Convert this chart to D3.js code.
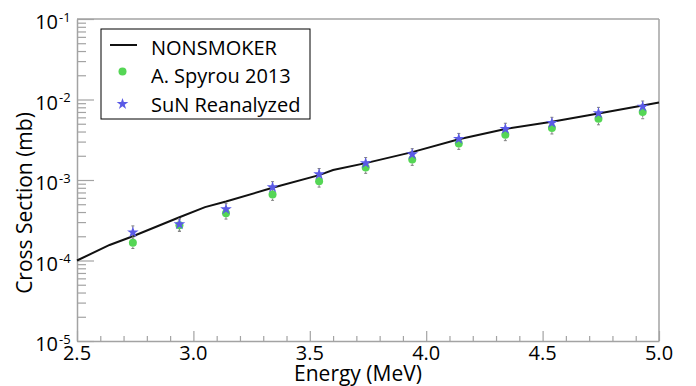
<!DOCTYPE html>
<html>
<head>
<meta charset="utf-8">
<script src="https://cdn.jsdelivr.net/npm/d3@7"></script>
<style>
  html, body { margin: 0; padding: 0; background: #fff; }
  svg { display: block; }
  text { font-family: "Open Sans", "DejaVu Sans", sans-serif; fill: #000; }
</style>
</head>
<body>
<svg id="chart" width="696" height="386"></svg>
<script>
// ---- data ----
const energies = [2.74, 2.94, 3.14, 3.34, 3.54, 3.74, 3.94, 4.14, 4.34, 4.54, 4.74, 4.93];
const spyrou    = [1.66e-4, 2.75e-4, 3.87e-4, 6.59e-4, 9.66e-4, 1.43e-3, 1.80e-3, 2.84e-3, 3.64e-3, 4.41e-3, 5.75e-3, 6.97e-3];
const spyrouErr = [0.25e-4, 0.45e-4, 0.6e-4, 1.0e-4, 1.5e-4, 2.2e-4, 2.8e-4, 4.4e-4, 5.6e-4, 6.8e-4, 9.0e-4, 1.2e-3];
const sun       = [2.24e-4, 2.82e-4, 4.33e-4, 8.13e-4, 1.18e-3, 1.62e-3, 2.09e-3, 3.24e-3, 4.32e-3, 5.13e-3, 6.78e-3, 8.18e-3];
const sunErr    = [0.45e-4, 0.5e-4, 0.8e-4, 1.4e-4, 2.1e-4, 2.8e-4, 3.6e-4, 5.5e-4, 7.5e-4, 8.8e-4, 1.2e-3, 1.4e-3];
const nsEnergy  = [2.5, 2.64, 2.74, 2.94, 3.05, 3.14, 3.34, 3.54, 3.6, 3.74, 3.94, 4.14, 4.34, 4.54, 4.74, 4.93, 5.0];
const nsValue   = [1.0e-4, 1.56e-4, 2.0e-4, 3.45e-4, 4.6e-4, 5.4e-4, 8.0e-4, 1.15e-3, 1.33e-3, 1.62e-3, 2.22e-3, 3.2e-3, 4.3e-3, 5.3e-3, 6.7e-3, 8.4e-3, 9.2e-3];
const xTickLabels = ["2.5", "3.0", "3.5", "4.0", "4.5", "5.0"];
const yDecades = [1e-5, 1e-4, 1e-3, 1e-2, 1e-1];
const yExponents = ["-5", "-4", "-3", "-2", "-1"];
const legendLabels = ["NONSMOKER", "A. Spyrou 2013", "SuN Reanalyzed"];

// ---- layout ----
const L = 77, R = 659, T = 19, B = 341;
const axisColor = "#a3a3a3";
const green = "#55d655";
const blue = "#5a5ae6";

const svg = d3.select("#chart");
const x = d3.scaleLinear().domain([2.5, 5.0]).range([L, R]);
const y = d3.scaleLog().domain([1e-5, 1e-1]).range([B, T]);

// frame (top & right)
svg.append("line").attr("x1", L).attr("x2", R).attr("y1", T).attr("y2", T)
  .attr("stroke", axisColor).attr("stroke-width", 1.5);
svg.append("line").attr("x1", R).attr("x2", R).attr("y1", T).attr("y2", B)
  .attr("stroke", axisColor).attr("stroke-width", 1.5);

// y axis
const yTicks = y.ticks();
const yAxis = d3.axisLeft(y).tickValues(yTicks).tickFormat("").tickSizeInner(-9).tickSizeOuter(0);
const gy = svg.append("g").attr("transform", `translate(${L},0)`).call(yAxis);
gy.select(".domain").attr("stroke", axisColor).attr("stroke-width", 1.5);
gy.selectAll(".tick line").attr("stroke", axisColor).attr("stroke-width", 1.2)
  .attr("x2", d => yDecades.some(v => Math.abs(v - d) / v < 1e-6) ? 17 : 9);

// x axis
const xTicks = d3.range(25, 51).map(v => v / 10);
const xAxis = d3.axisBottom(x).tickValues(xTicks).tickFormat("").tickSizeInner(-5).tickSizeOuter(0);
const gx = svg.append("g").attr("transform", `translate(0,${B})`).call(xAxis);
gx.select(".domain").attr("stroke", axisColor).attr("stroke-width", 1.5);
gx.selectAll(".tick line").attr("stroke", axisColor).attr("stroke-width", 1.2)
  .attr("y2", d => Math.abs(d * 2 - Math.round(d * 2)) < 1e-6 ? -10 : -5);

// x tick labels
svg.append("g").selectAll("text").data(xTickLabels).join("text")
  .attr("x", d => x(+d)).attr("y", 360)
  .attr("text-anchor", "middle").attr("font-size", 20).text(d => d);

// y tick labels
const yl = svg.append("g");
yDecades.forEach((v, i) => {
  yl.append("text").attr("x", 58).attr("y", y(v) + 10).attr("text-anchor", "end")
    .attr("font-size", 20).text("10");
  yl.append("text").attr("x", 59).attr("y", y(v) + 2.5).attr("text-anchor", "start")
    .attr("font-size", 13).text(yExponents[i]);
});

// axis titles
svg.append("text").attr("x", 358).attr("y", 381).attr("text-anchor", "middle")
  .attr("font-size", 21).text("Energy (MeV)");
svg.append("text").attr("transform", "translate(32,203) rotate(-90)")
  .attr("text-anchor", "middle").attr("font-size", 21).text("Cross Section (mb)");

// NONSMOKER line
const nsData = nsEnergy.map((e, i) => [e, nsValue[i]]);
svg.append("path").datum(nsData)
  .attr("d", d3.line().x(d => x(d[0])).y(d => y(d[1])))
  .attr("fill", "none").attr("stroke", "#111").attr("stroke-width", 2);

// error bars
function errorBars(vals, errs, color) {
  const g = svg.append("g").attr("stroke", color).attr("stroke-width", 1);
  energies.forEach((e, i) => {
    const cx = x(e), y1 = y(vals[i] + errs[i]), y2 = y(vals[i] - errs[i]);
    g.append("line").attr("x1", cx).attr("x2", cx).attr("y1", y1).attr("y2", y2)
      .attr("stroke-dasharray", "2,1");
    g.append("line").attr("x1", cx - 1.5).attr("x2", cx + 1.5).attr("y1", y1).attr("y2", y1);
    g.append("line").attr("x1", cx - 1.5).attr("x2", cx + 1.5).attr("y1", y2).attr("y2", y2);
  });
}
errorBars(spyrou, spyrouErr, "#808080");
errorBars(sun, sunErr, "#808080");

// markers
svg.append("g").selectAll("circle").data(energies).join("circle")
  .attr("cx", d => x(d)).attr("cy", (d, i) => y(spyrou[i])).attr("r", 4)
  .attr("fill", green);
const star = d3.symbol().type(d3.symbolStar).size(42);
svg.append("g").selectAll("path").data(energies).join("path")
  .attr("d", star)
  .attr("transform", (d, i) => `translate(${x(d)},${y(sun[i])})`)
  .attr("fill", blue);

// legend
const lg = svg.append("g");
lg.append("rect").attr("x", 101).attr("y", 29).attr("width", 209).attr("height", 90)
  .attr("fill", "#fff").attr("stroke", "#000").attr("stroke-width", 1);
lg.append("line").attr("x1", 110).attr("x2", 137).attr("y1", 45).attr("y2", 45)
  .attr("stroke", "#111").attr("stroke-width", 2);
lg.append("circle").attr("cx", 122.5).attr("cy", 71.5).attr("r", 4).attr("fill", green);
lg.append("path").attr("d", star).attr("transform", "translate(122.5,104)").attr("fill", blue);
lg.selectAll("text.lab").data(legendLabels).join("text").attr("class", "lab")
  .attr("x", 151).attr("y", (d, i) => [55, 83, 111.5][i])
  .attr("font-size", 20).text(d => d);
</script>
</body>
</html>
